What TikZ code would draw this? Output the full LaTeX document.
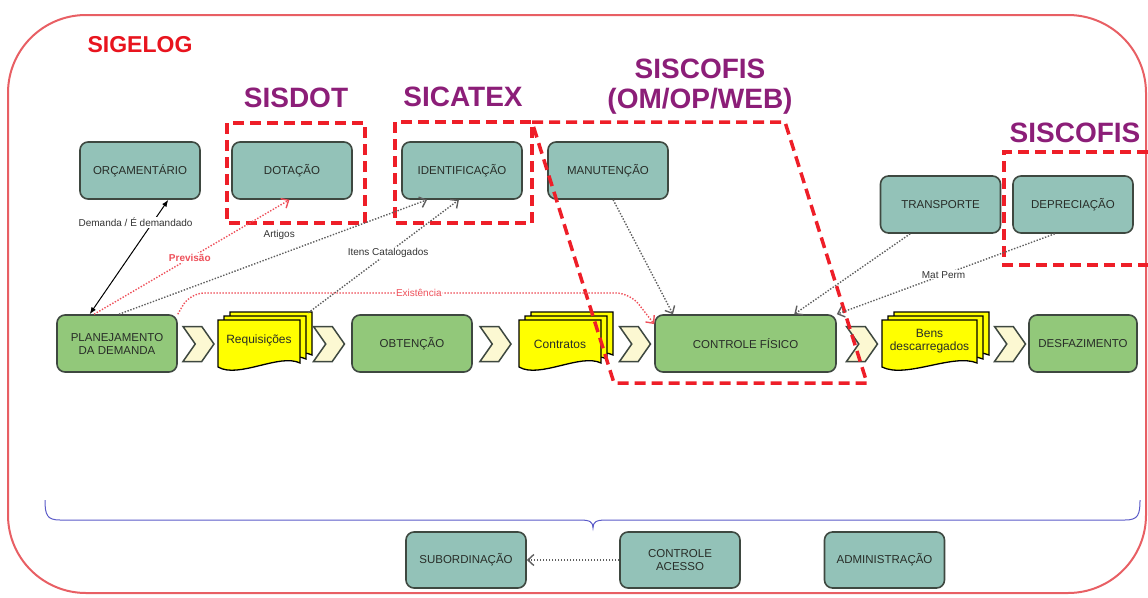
\documentclass[tikz,border=0pt]{standalone}
\usepackage{fontspec}
\setmainfont{Liberation Sans}
\usepackage{xcolor}
\usetikzlibrary{shapes,arrows.meta,positioning,calc}

\definecolor{tealfill}{RGB}{147,194,184}
\definecolor{greenfill}{RGB}{146,200,122}
\definecolor{boxline}{RGB}{62,72,64}
\definecolor{boxtext}{RGB}{40,45,40}
\definecolor{chevfill}{RGB}{252,248,210}
\definecolor{docfill}{RGB}{255,255,0}
\definecolor{titlepurple}{RGB}{140,30,120}
\definecolor{sigred}{RGB}{232,20,30}
\definecolor{dashred}{RGB}{238,30,40}
\definecolor{dotgray}{RGB}{95,95,95}
\definecolor{dotred}{RGB}{238,80,90}
\definecolor{bracecol}{RGB}{90,90,200}
\definecolor{framecol}{RGB}{232,95,100}

\begin{document}
\begin{tikzpicture}[
  x=1pt, y=-1pt,
  sysbox/.style={rectangle, draw=boxline, line width=1.6pt, rounded corners=8pt, fill=tealfill, minimum width=120pt, minimum height=57pt, align=center, text=boxtext, font=\fontsize{11.5}{13}\selectfont},
  procbox/.style={sysbox, fill=greenfill},
  chev/.style={signal, signal from=west, signal to=east, signal pointer angle=110, draw=boxline, line width=1.5pt, fill=chevfill, minimum width=31pt, minimum height=35pt, inner sep=0pt},
  doctext/.style={align=center, text=boxtext, font=\fontsize{12}{13.5}\selectfont, minimum width=82pt, minimum height=40pt, inner sep=0pt},
  title/.style={font=\fontsize{28}{30}\selectfont\bfseries, text=titlepurple, align=center},
  dashbox/.style={draw=dashred, line width=3.5pt, dash pattern=on 11pt off 6pt},
  gdot/.style={-{Straight Barb[length=6pt,width=11pt]}, draw=dotgray, line width=1.4pt, dash pattern=on 1.4pt off 1.6pt},
  rdot/.style={gdot, draw=dotred},
  lbl/.style={font=\fontsize{10}{11}\selectfont, text=black!80, inner sep=1pt},
  docpage/.pic={\draw[draw=black, line width=1.3pt, fill=docfill] (-#1/2,-25) -- (#1/2,-25) -- (#1/2,18) .. controls (#1/4,8) and (-#1/4,34) .. (-#1/2,22) -- cycle;}
]
\useasboundingbox (0,0) rectangle (1148,597);

% frame
\draw[framecol, line width=2pt, rounded corners=78pt] (8,15) rectangle (1146,593);

% titles
\node[font=\fontsize{23}{25}\selectfont\bfseries, text=sigred] (sigelog) at (140,45) {SIGELOG};
\node[title] (sisdot) at (296,98) {SISDOT};
\node[title] (sicatex) at (463,97) {SICATEX};
\node[title] (siscofis) at (700,87) {SISCOFIS\\(OM/OP/WEB)};
\node[title] (siscofisdep) at (1075,133) {SISCOFIS};

% systems
\node[sysbox] (orc) at (140,170.5) {ORÇAMENTÁRIO};
\node[sysbox] (dot) at (292,170.5) {DOTAÇÃO};
\node[sysbox] (ident) at (462,170.5) {IDENTIFICAÇÃO};
\node[sysbox] (manut) at (608,170.5) {MANUTENÇÃO};
\node[sysbox] (transp) at (940.5,204.5) {TRANSPORTE};
\node[sysbox] (deprec) at (1073,204.5) {DEPRECIAÇÃO};

% documents
\pic at (271,337) {docpage=82};
\pic at (265,341) {docpage=82};
\pic at (259,345) {docpage=82};
\node[doctext] (req) at (259,340) {Requisições};
\pic at (572,337) {docpage=82};
\pic at (566,341) {docpage=82};
\pic at (560,345) {docpage=82};
\node[doctext] (contr) at (560,344) {Contratos};
\pic at (941.5,337) {docpage=95};
\pic at (935.5,341) {docpage=95};
\pic at (929.5,345) {docpage=95};
\node[doctext, minimum width=95pt] (bens) at (929.5,341) {Bens\\descarregados};

% process chain
\node[procbox] (plan) at (117,343.5) {PLANEJAMENTO\\DA DEMANDA};
\node[procbox] (obt) at (412,343.5) {OBTENÇÃO};
\node[procbox, minimum width=181pt] (ctrl) at (745.5,343.5) {CONTROLE FÍSICO};
\node[procbox, minimum width=108pt] (desf) at (1083,343.5) {DESFAZIMENTO};
\node[chev] (c1) at (198.5,344) {};
\node[chev] (c2) at (329,344) {};
\node[chev] (c3) at (495.5,344) {};
\node[chev] (c4) at (635,344) {};
\node[chev] (c5) at (862,344) {};
\node[chev] (c6) at (1010,344) {};

% system frames
\draw[dashbox] (227,123) rectangle (365,223);
\draw[dashbox] (395,122) rectangle (532,223);
\draw[dashbox] (532,122) -- (785,122) -- (867,383) -- (614,383) -- cycle;
\draw[dashbox] (1148,152) -- (1004,152) -- (1004,265) -- (1148,265);

% links
\draw[{Latex[length=7pt]}-{Latex[length=7pt]}, line width=1pt] (plan.133) -- node[lbl, fill=white, pos=0.8, xshift=-17pt] (ldem) {Demanda / É demandado} (orc.-46);
\draw[rdot] (plan.128) -- node[lbl, fill=white, text=dotred, font=\fontsize{10}{11}\selectfont\bfseries, pos=0.49] (lprev) {Previsão} (dot.-95);
\draw[gdot] (plan.86) -- node[lbl, pos=0.52, above=13pt] (lart) {Artigos} (ident.-140);
\draw[gdot] ($(req.north east)+(8,-7)$) -- node[lbl, fill=white, pos=0.53] (litens) {Itens Catalogados} (ident.-96);
\draw[rdot, rounded corners=14pt] (plan.north east) -- (190,293) -- node[lbl, fill=white, text=dotred, pos=0.52] (lexist) {Existência} (630,293) -- (ctrl.168);
\draw[gdot] (manut.-80) -- (ctrl.158);
\draw[gdot] (transp.-136) -- (ctrl.31);
\draw[gdot] (deprec.-122) -- node[lbl, fill=white, pos=0.51] (lmat) {Mat Perm} (ctrl.north east);

% common services
\draw[bracecol, line width=1pt] (45,500) .. controls (45,515) and (47,520) .. (60,520) -- (580,520) .. controls (590,520) and (593,522) .. (593,528) .. controls (593,522) and (596,520) .. (606,520) -- (1125,520) .. controls (1138,520) and (1140,515) .. (1140,500);
\node[sysbox, minimum height=56pt] (subord) at (466,560) {SUBORDINAÇÃO};
\node[sysbox, minimum height=56pt] (acesso) at (680,560) {CONTROLE\\ACESSO};
\node[sysbox, minimum height=56pt] (admin) at (884.5,560) {ADMINISTRAÇÃO};
\draw[gdot] (acesso) -- (subord);

\end{tikzpicture}
\end{document}
